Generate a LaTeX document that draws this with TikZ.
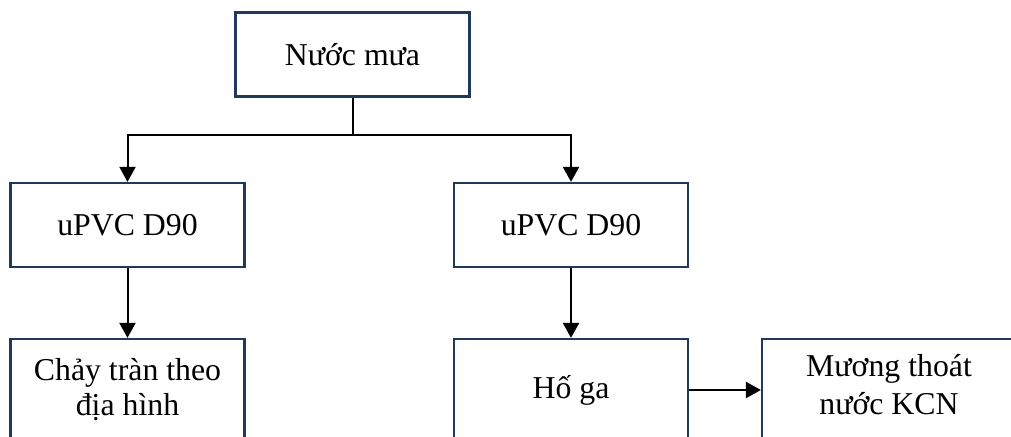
\documentclass[tikz,border=0pt]{standalone}
\usepackage{fontspec}
\setmainfont{Liberation Serif}
\usetikzlibrary{arrows.meta}
\definecolor{boxblue}{RGB}{32,56,90}

\begin{document}
\begin{tikzpicture}[
    x=0.5pt, y=-0.5pt,
    flowbox/.style={
      rectangle, draw=boxblue, line width=1.1pt,
      minimum width=117pt, minimum height=42pt,
      font=\fontsize{15.9}{17.5}\selectfont, align=center, inner sep=2pt
    },
    tallbox/.style={flowbox, minimum height=51pt},
    arr/.style={-{Triangle[length=7.5pt, width=8pt]}, line width=1pt},
  ]

  % picture frame: the lower boxes run past the bottom and right edges
  \useasboundingbox (0,0) rectangle (1011,437);
  \clip (0,0) rectangle (1011,437);

  % Nodes (pixel grid of the page)
  \node[flowbox] (rain) at (352.5,54.5) {Nước mưa};
  \node[flowbox] (pipel) at (127.5,225) {uPVC D90};
  \node[flowbox] (piper) at (571,225) {uPVC D90};
  \node[tallbox] (runoff) at (127.5,390) {Chảy tràn theo\\địa hình};
  \node[tallbox] (pit) at (571,390) {Hố ga};
  \node[tallbox, minimum width=127pt, text depth=6pt] (ditch) at (889,390)
    {Mương thoát\\[1.5pt]nước KCN};

  % Rain water splits into the two pipes
  \coordinate (fork) at (352.5,135);
  \draw[line width=1pt] (rain.south) -- (fork);
  \draw[arr] (fork) -| (pipel.north);
  \draw[arr] (fork) -| (piper.north);

  % Pipes down to their outlets
  \draw[arr] (pipel.south) -- (runoff.north);
  \draw[arr] (piper.south) -- (pit.north);
  \draw[arr] (pit.east) -- (ditch.west);

\end{tikzpicture}
\end{document}
